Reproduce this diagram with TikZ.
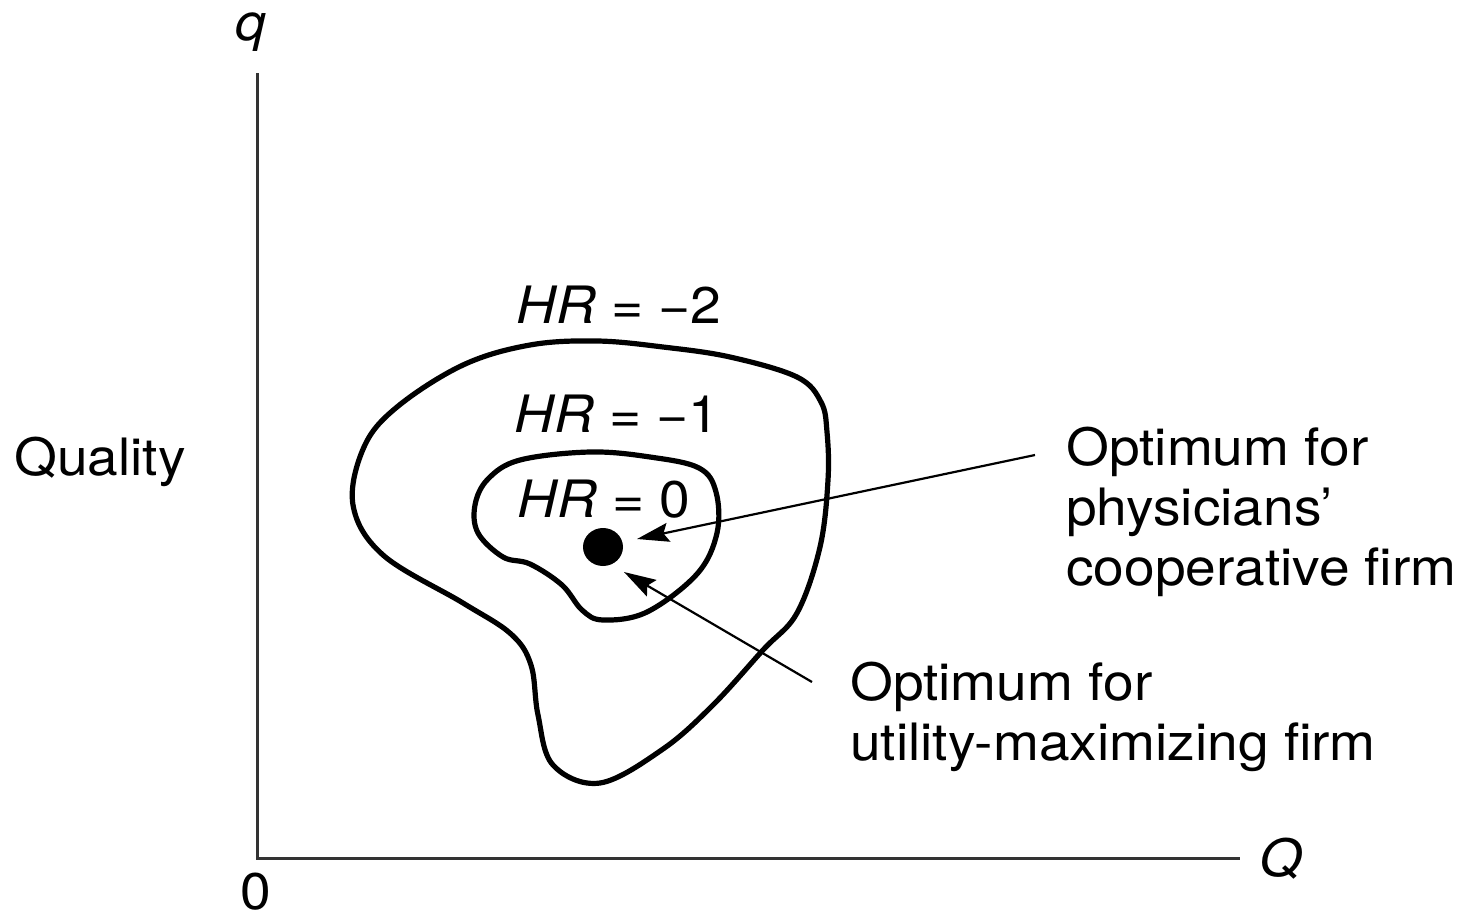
\documentclass[tikz,border=0pt]{standalone}
\usepackage{fontspec}
\setmainfont{TeX Gyre Heros}[FakeStretch=1.07]
\usetikzlibrary{arrows.meta,shapes.geometric}
\begin{document}
\begin{tikzpicture}[x=1pt,y=-1pt,
  lbl/.style={inner sep=0pt,font=\fontsize{51.5}{60}\selectfont},
  axis/.style={line width=3pt,draw=black!80},
  contour/.style={line width=5.2pt,line join=round},
  pointer/.style={line width=2.2pt,-{Stealth[length=32pt,width=19pt,inset=5pt]}}]
\useasboundingbox (0,0) rectangle (1464,918);
% axes
\coordinate (top) at (257,73);
\coordinate (origin) at (257,858);
\coordinate (right) at (1240,858);
\draw[axis] (top) -- (origin) -- (right);
\node[lbl,anchor=base] (q) at (251,40) {\itshape q};
\node[lbl,anchor=base] (Qlab) at (1281,876) {\itshape Q};
\node[lbl,anchor=base] (zero) at (256,909) {0};
\node[lbl,anchor=base west] (quality) at (14,475) {Quality};
% contours
\draw[contour] plot[smooth cycle,tension=0.6] coordinates {
 (597,341) (663,347) (730,357) (797,377) (821,402) (827,432) (828,480)
 (820,547) (797,613) (763,650) (713,705) (663,749) (600,783)
 (553,765) (538,715) (531,665) (511,634) (463,603) (383,555)
 (353,505) (364,447) (397,407) (463,365) (530,345)};
\draw[contour] plot[smooth cycle,tension=0.6] coordinates {
 (590,452) (650,457) (699,468) (716,492) (717,533) (697,574)
 (647,612) (603,620) (582,610) (562,585) (530,564) (503,557)
 (478,533) (475,505) (488,479) (520,460)};
% labels
\node[lbl,anchor=base] (hr2) at (619,323) {\textit{HR} = −2};
\node[lbl,anchor=base] (hr1) at (617,432) {\textit{HR} = −1};
\node[lbl,anchor=base] (hr0) at (604,517) {\textit{HR} = 0};
% optimum dot
\node[draw=none,fill=black,ellipse,minimum width=40pt,minimum height=38pt,inner sep=0pt] (dot) at (603,547) {};
% annotations
\node[lbl,anchor=base west,align=left] (coop) at (1066,585) {Optimum for\\physicians’\\cooperative firm};
\node[lbl,anchor=base west,align=left] (util) at (850,760) {Optimum for\\utility-maximizing firm};
\coordinate (s1) at (1035,455);
\coordinate (t1) at (637,539);
\coordinate (s2) at (812,682);
\coordinate (t2) at (624,572);
\draw[pointer] (s1) -- (t1);
\draw[pointer] (s2) -- (t2);
\end{tikzpicture}
\end{document}
